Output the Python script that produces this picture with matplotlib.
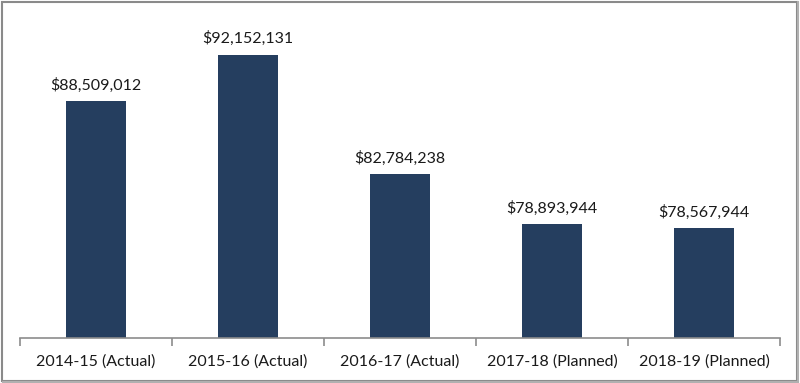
import matplotlib.pyplot as plt
from matplotlib.patches import Rectangle
import numpy as np

categories = ["2014-15 (Actual)", "2015-16 (Actual)", "2016-17 (Actual)",
              "2017-18 (Planned)", "2018-19 (Planned)"]
values = [88509012, 92152131, 82784238, 78893944, 78567944]

plt.rcParams['font.family'] = ['Lato', 'DejaVu Sans']

fig = plt.figure(figsize=(8, 3.83), dpi=100)
ax = fig.add_axes([0.025, 0.1175, 0.95, 0.835])

x = np.arange(len(categories))
ax.bar(x, values, width=0.4, color='#253E5F', zorder=2)
for xi, v in zip(x, values):
    ax.text(xi, v + 0.65e6, "${:,}".format(v), ha='center', va='bottom',
            fontsize=11.5, color='#1a1a1a')

ax.set_xlim(-0.5, len(categories) - 0.5)
ax.set_ylim(70e6, 95e6)
ax.set_yticks([])
for s in ['top', 'right', 'left']:
    ax.spines[s].set_visible(False)
ax.spines['bottom'].set_color('#8c8c8c')
ax.spines['bottom'].set_linewidth(1.2)

ax.set_xticks(x)
ax.set_xticklabels(categories, fontsize=11.5, color='#1a1a1a')
ax.tick_params(axis='x', which='major', length=0, pad=12)
ax.set_xticks(np.arange(-0.5, len(categories), 1), minor=True)
ax.tick_params(axis='x', which='minor', length=6, width=1.2, color='#8c8c8c')

# outer frame with slight shadow
fig.patches.append(Rectangle((0.002, 0.006), 0.994, 0.99, transform=fig.transFigure,
                             fill=False, edgecolor='#8a8a8a', linewidth=1.5))
fig.lines.append(plt.Line2D([0.997, 0.997], [0.004, 0.994], transform=fig.transFigure,
                            color='#b0b0b0', linewidth=1.5))
fig.lines.append(plt.Line2D([0.004, 0.997], [0.003, 0.003], transform=fig.transFigure,
                            color='#b0b0b0', linewidth=1.5))

fig.savefig('out.png', dpi=100)
